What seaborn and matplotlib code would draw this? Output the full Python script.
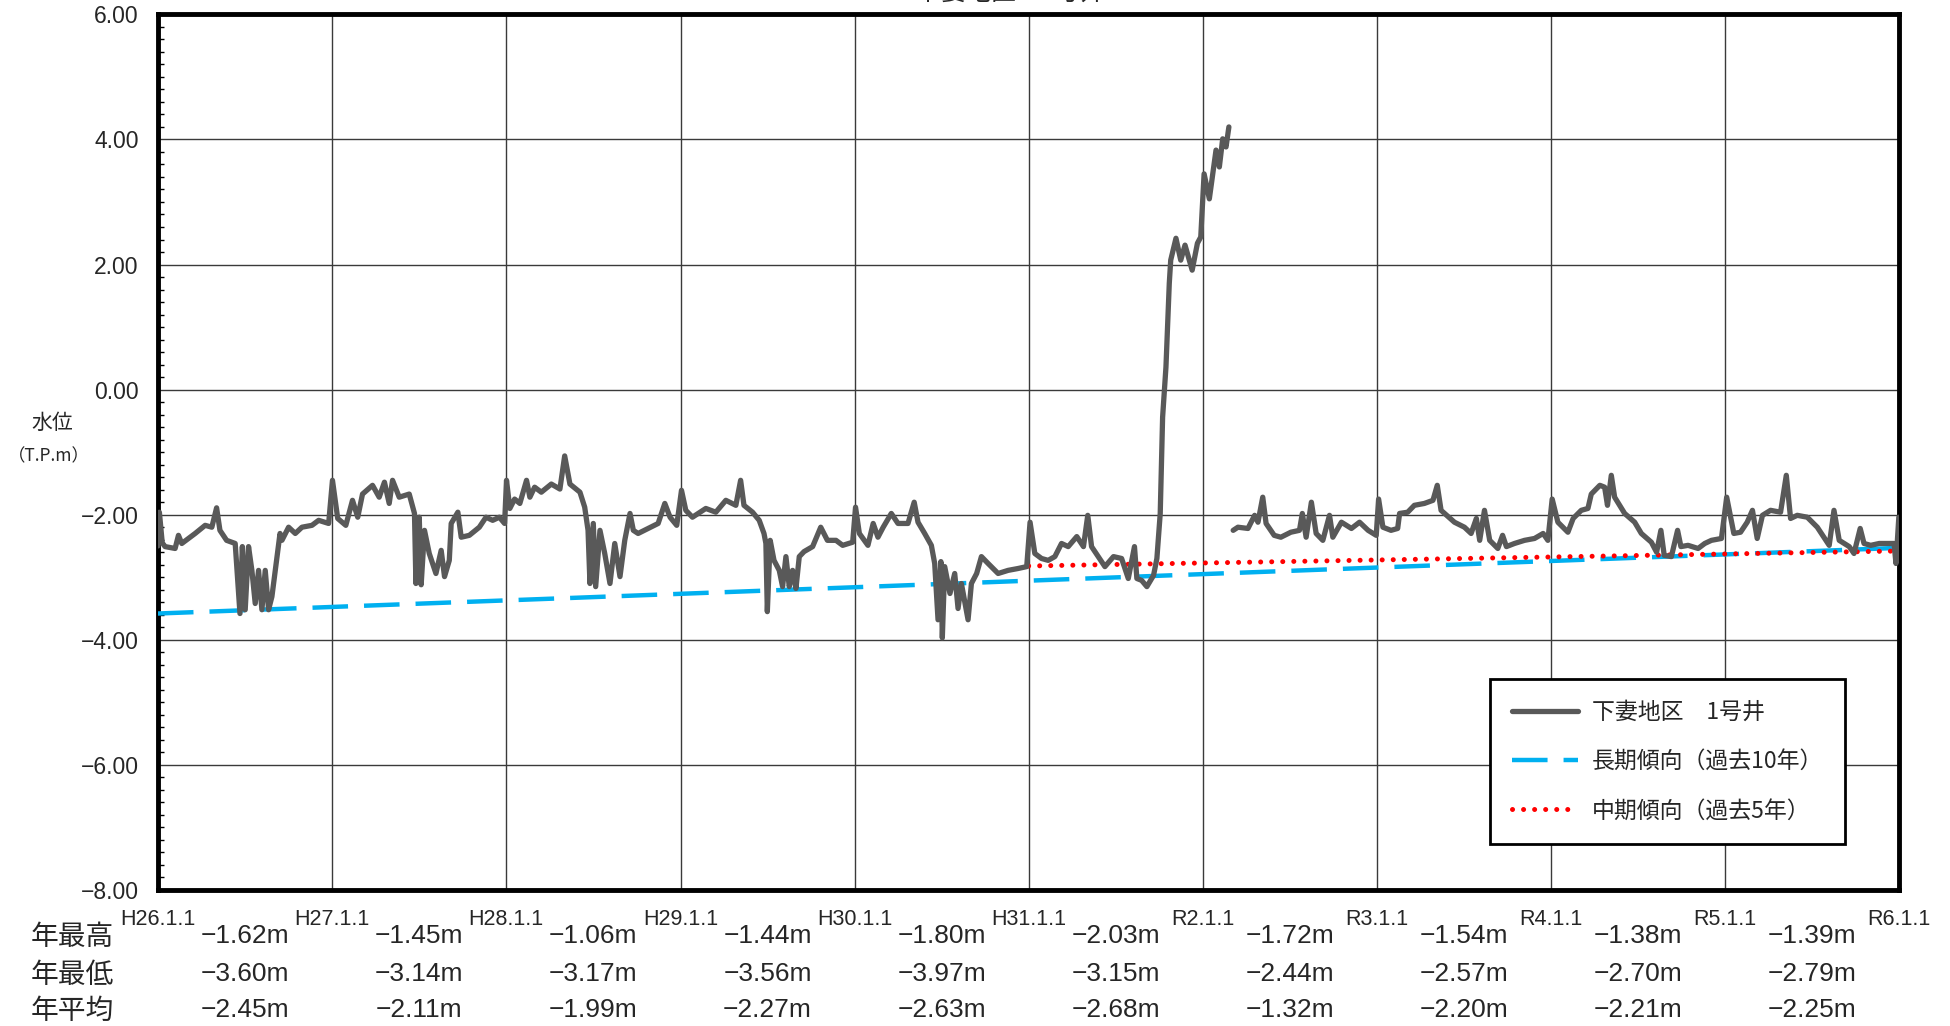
import pandas as pd
import matplotlib.pyplot as plt
import matplotlib.ticker as mticker
from matplotlib.lines import Line2D
import seaborn as sns

# observed water level, part 1 (up to the gap in Feb 2020)
obs_dates_a = [
    '2014-01-01', '2014-01-04', '2014-01-10', '2014-01-16', '2014-02-06', '2014-02-13', '2014-02-20',
    '2014-03-20', '2014-04-10', '2014-04-24', '2014-05-04', '2014-05-11', '2014-05-25', '2014-06-12',
    '2014-06-22', '2014-06-27', '2014-07-03', '2014-07-10', '2014-07-17', '2014-07-24', '2014-07-31',
    '2014-08-07', '2014-08-14', '2014-08-21', '2014-08-28', '2014-09-04', '2014-09-14', '2014-09-18',
    '2014-10-02', '2014-10-16', '2014-10-30', '2014-11-20', '2014-12-04', '2014-12-25',
    '2015-01-02', '2015-01-13', '2015-01-30', '2015-02-13', '2015-02-24', '2015-03-06', '2015-03-27',
    '2015-04-10', '2015-04-21', '2015-05-01', '2015-05-08', '2015-05-22', '2015-06-12', '2015-06-23',
    '2015-06-26', '2015-07-03', '2015-07-07', '2015-07-14', '2015-07-24', '2015-08-07', '2015-08-18',
    '2015-08-25', '2015-09-04', '2015-09-08', '2015-09-22', '2015-09-29', '2015-10-16', '2015-11-06',
    '2015-11-20', '2015-12-04', '2015-12-18', '2015-12-29',
    '2016-01-02', '2016-01-09', '2016-01-19', '2016-01-30', '2016-02-13', '2016-02-20', '2016-03-01',
    '2016-03-15', '2016-04-05', '2016-04-23', '2016-05-03', '2016-05-14', '2016-06-04', '2016-06-14',
    '2016-06-21', '2016-06-25', '2016-07-02', '2016-07-07', '2016-07-16', '2016-07-26', '2016-08-06',
    '2016-08-16', '2016-08-27', '2016-09-06', '2016-09-17', '2016-09-24', '2016-10-04', '2016-10-25',
    '2016-11-15', '2016-11-29', '2016-12-10', '2016-12-24',
    '2017-01-03', '2017-01-12', '2017-01-26', '2017-02-23', '2017-03-16', '2017-04-06', '2017-04-27',
    '2017-05-07', '2017-05-14', '2017-06-01', '2017-06-15', '2017-06-25', '2017-06-29', '2017-07-02',
    '2017-07-08', '2017-07-16', '2017-07-27', '2017-08-03', '2017-08-10', '2017-08-17', '2017-08-24',
    '2017-08-31', '2017-09-07', '2017-09-17', '2017-10-05', '2017-10-22', '2017-11-05', '2017-11-23',
    '2017-12-07', '2017-12-28',
    '2018-01-03', '2018-01-11', '2018-01-29', '2018-02-09', '2018-02-19', '2018-03-02', '2018-03-19',
    '2018-04-02', '2018-04-23', '2018-05-06', '2018-05-14', '2018-05-28', '2018-06-11', '2018-06-18',
    '2018-06-25', '2018-07-01', '2018-07-04', '2018-07-09', '2018-07-20', '2018-07-30', '2018-08-06',
    '2018-08-13', '2018-08-27', '2018-09-03', '2018-09-14', '2018-09-24', '2018-10-08', '2018-10-29',
    '2018-11-19', '2018-12-10', '2018-12-28',
    '2019-01-04', '2019-01-14', '2019-01-28', '2019-02-11', '2019-02-25', '2019-03-11', '2019-03-25',
    '2019-04-12', '2019-04-26', '2019-05-05', '2019-05-13', '2019-05-27', '2019-06-10', '2019-06-28',
    '2019-07-15', '2019-07-29', '2019-08-11', '2019-08-16', '2019-08-26', '2019-09-06', '2019-09-20',
    '2019-09-27', '2019-10-04', '2019-10-09', '2019-10-16', '2019-10-23', '2019-10-26', '2019-11-06',
    '2019-11-16', '2019-11-25', '2019-12-10', '2019-12-21', '2019-12-28',
    '2020-01-04', '2020-01-15', '2020-01-29', '2020-02-05', '2020-02-12', '2020-02-19', '2020-02-25',
]
obs_level_a = [
    -2.50, -1.96, -2.45, -2.51, -2.54, -2.33, -2.46,
    -2.30, -2.17, -2.20, -1.89, -2.25, -2.41, -2.46,
    -3.58, -2.51, -3.52, -2.51, -2.89, -3.42, -2.89,
    -3.52, -2.89, -3.52, -3.31, -2.89, -2.30, -2.41,
    -2.20, -2.30, -2.20, -2.17, -2.09, -2.14,
    -1.45, -2.06, -2.17, -1.77, -2.04, -1.67, -1.53,
    -1.72, -1.48, -1.82, -1.45, -1.72, -1.67, -1.98,
    -3.10, -2.04, -3.12, -2.25, -2.62, -2.94, -2.57,
    -2.99, -2.73, -2.14, -1.96, -2.36, -2.33, -2.20,
    -2.04, -2.09, -2.04, -2.14,
    -1.45, -1.90, -1.75, -1.82, -1.45, -1.72, -1.56,
    -1.64, -1.51, -1.59, -1.06, -1.51, -1.64, -1.88,
    -2.25, -3.10, -2.14, -3.15, -2.25, -2.62, -3.10,
    -2.46, -2.99, -2.41, -1.98, -2.25, -2.30, -2.22,
    -2.14, -1.82, -2.04, -2.17,
    -1.61, -1.93, -2.04, -1.90, -1.96, -1.77, -1.85,
    -1.45, -1.85, -1.96, -2.09, -2.30, -2.46, -3.55,
    -2.41, -2.73, -2.89, -3.15, -2.67, -3.15, -2.89,
    -3.18, -2.67, -2.59, -2.51, -2.20, -2.41, -2.41,
    -2.49, -2.44,
    -1.88, -2.30, -2.49, -2.14, -2.36, -2.20, -1.98,
    -2.14, -2.14, -1.80, -2.12, -2.30, -2.49, -2.78,
    -3.68, -2.75, -3.97, -2.83, -3.26, -2.94, -3.50,
    -3.10, -3.68, -3.10, -2.94, -2.67, -2.78, -2.94,
    -2.89, -2.86, -2.83,
    -2.12, -2.62, -2.70, -2.73, -2.67, -2.46, -2.51,
    -2.35, -2.51, -2.01, -2.51, -2.67, -2.83, -2.67,
    -2.70, -3.02, -2.51, -3.02, -3.05, -3.15, -2.97,
    -2.70, -1.98, -0.44, 0.36, 1.70, 2.07, 2.42,
    2.07, 2.31, 1.91, 2.34, 2.44,
    3.45, 3.05, 3.83, 3.56, 4.01, 3.88, 4.20,
]

# observed water level, part 2 (after the gap)
obs_dates_b = [
    '2020-03-05', '2020-03-15', '2020-04-05', '2020-04-19', '2020-04-26', '2020-05-06', '2020-05-13',
    '2020-05-30', '2020-06-13', '2020-07-04', '2020-07-22', '2020-07-28', '2020-08-05', '2020-08-16',
    '2020-08-26', '2020-09-09', '2020-09-23', '2020-09-30', '2020-10-18', '2020-11-08', '2020-11-25',
    '2020-12-13', '2020-12-30',
    '2021-01-04', '2021-01-13', '2021-01-30', '2021-02-13', '2021-02-17', '2021-03-06', '2021-03-20',
    '2021-04-10', '2021-04-28', '2021-05-07', '2021-05-15', '2021-06-12', '2021-07-03', '2021-07-17',
    '2021-07-28', '2021-08-04', '2021-08-14', '2021-08-25', '2021-09-11', '2021-09-21', '2021-09-29',
    '2021-10-16', '2021-11-06', '2021-11-27', '2021-12-15', '2021-12-25',
    '2022-01-03', '2022-01-15', '2022-02-05', '2022-02-16', '2022-03-05', '2022-03-19', '2022-03-26',
    '2022-04-13', '2022-04-23', '2022-04-29', '2022-05-07', '2022-05-14', '2022-06-04', '2022-06-25',
    '2022-07-09', '2022-07-30', '2022-08-10', '2022-08-19', '2022-08-26', '2022-09-10', '2022-09-23',
    '2022-09-30', '2022-10-15', '2022-11-05', '2022-11-19', '2022-12-03', '2022-12-24',
    '2023-01-04', '2023-01-19', '2023-02-02', '2023-02-16', '2023-02-27', '2023-03-09', '2023-03-20',
    '2023-04-06', '2023-04-27', '2023-05-09', '2023-05-18', '2023-06-01', '2023-06-22', '2023-07-13',
    '2023-08-07', '2023-08-17', '2023-08-28', '2023-09-18', '2023-09-28', '2023-10-11', '2023-10-19',
    '2023-11-02', '2023-11-20', '2023-12-07', '2023-12-21', '2023-12-25', '2023-12-31',
]
obs_level_b = [
    -2.25, -2.20, -2.22, -2.01, -2.12, -1.72, -2.14,
    -2.33, -2.36, -2.28, -2.25, -1.98, -2.36, -1.80,
    -2.30, -2.41, -2.01, -2.36, -2.12, -2.22, -2.12,
    -2.25, -2.33,
    -1.75, -2.20, -2.25, -2.22, -1.98, -1.96, -1.85,
    -1.82, -1.77, -1.53, -1.93, -2.12, -2.20, -2.30,
    -2.06, -2.41, -1.93, -2.41, -2.54, -2.33, -2.51,
    -2.46, -2.41, -2.38, -2.30, -2.41,
    -1.75, -2.12, -2.28, -2.06, -1.93, -1.90, -1.67,
    -1.53, -1.56, -1.85, -1.37, -1.72, -1.98, -2.12,
    -2.30, -2.44, -2.60, -2.25, -2.65, -2.67, -2.25,
    -2.51, -2.49, -2.54, -2.46, -2.41, -2.38,
    -1.72, -2.30, -2.28, -2.12, -1.93, -2.38, -2.01,
    -1.93, -1.96, -1.37, -2.06, -2.01, -2.04, -2.20,
    -2.49, -1.93, -2.41, -2.51, -2.62, -2.22, -2.46,
    -2.49, -2.46, -2.46, -2.46, -2.78, -2.04,
]

# trend lines
long_dates = ['2014-01-01', '2024-01-01']
long_level = [-3.58, -2.53]
mid_dates = ['2019-01-01', '2024-01-01']
mid_level = [-2.82, -2.58]

# yearly summary table
year_starts = ['2014-01-01', '2015-01-01', '2016-01-01', '2017-01-01', '2018-01-01', '2019-01-01',
               '2020-01-01', '2021-01-01', '2022-01-01', '2023-01-01', '2024-01-01']
year_labels = ['H26.1.1', 'H27.1.1', 'H28.1.1', 'H29.1.1', 'H30.1.1', 'H31.1.1',
               'R2.1.1', 'R3.1.1', 'R4.1.1', 'R5.1.1', 'R6.1.1']
year_max = [-1.62, -1.45, -1.06, -1.44, -1.80, -2.03, -1.72, -1.54, -1.38, -1.39]
year_min = [-3.60, -3.14, -3.17, -3.56, -3.97, -3.15, -2.44, -2.57, -2.70, -2.79]
year_mean = [-2.45, -2.11, -1.99, -2.27, -2.63, -2.68, -1.32, -2.20, -2.21, -2.25]
row_names = ['年最高', '年最低', '年平均']

sns.set_style('white')
num_font = ['Liberation Sans', 'DejaVu Sans']
jp_font = ['Noto Sans CJK JP', 'DejaVu Sans']
plt.rcParams['font.family'] = num_font

df_a = pd.DataFrame({'date': pd.to_datetime(obs_dates_a), 'level': obs_level_a})
df_b = pd.DataFrame({'date': pd.to_datetime(obs_dates_b), 'level': obs_level_b})
df_long = pd.DataFrame({'date': pd.to_datetime(long_dates), 'level': long_level})
df_mid = pd.DataFrame({'date': pd.to_datetime(mid_dates), 'level': mid_level})
ticks = pd.to_datetime(year_starts)

fig, ax = plt.subplots(figsize=(19.5, 10.26), dpi=100)
fig.subplots_adjust(left=0.081, right=0.974, bottom=0.1326, top=0.986)

gray = '#595959'
blue = '#00B0F0'
red = '#FF0000'
long_style = (0, (8, 3.6))
mid_style = (0, (0.01, 2.2))

sns.lineplot(data=df_long, x='date', y='level', ax=ax, color=blue, linewidth=3.2,
             linestyle=long_style, zorder=3)
sns.lineplot(data=df_mid, x='date', y='level', ax=ax, color=red, linewidth=3.6,
             linestyle=mid_style, dash_capstyle='round', zorder=3)
for d in (df_a, df_b):
    sns.lineplot(data=d, x='date', y='level', ax=ax, color=gray, linewidth=3.8,
                 estimator=None, sort=False, zorder=4)

ax.set_xlim(ticks[0], ticks[-1])
ax.set_ylim(-8, 6)
ax.set_xticks(ticks)
ax.set_xticklabels(year_labels, fontsize=15.5)
ax.set_yticks(range(-8, 7, 2))
ax.yaxis.set_major_formatter(mticker.FuncFormatter(lambda v, p: f'{v:.2f}'.replace('-', '\u2212')))
ax.yaxis.set_minor_locator(mticker.MultipleLocator(0.2))
ax.tick_params(axis='y', which='major', length=0, pad=14, labelsize=16.5)
ax.tick_params(axis='y', which='minor', left=True, direction='in', length=4, width=1, color='black')
ax.tick_params(axis='x', length=0, pad=14)
ax.set_xlabel('')
ax.set_ylabel('')
ax.grid(True, color='#3a3a3a', linewidth=1.0)
for s in ax.spines.values():
    s.set_color('black')
    s.set_linewidth(3.5)

# y axis caption
fig.text(0.027, 0.588, '水位', fontsize=15, family=jp_font, ha='center', va='center')
fig.text(0.025, 0.555, '（T.P.m）', fontsize=12.5, family=jp_font, ha='center', va='center')

# cut-off title
fig.text(0.518, 0.994, '下妻地区\u30001号井', fontsize=18, family=jp_font, ha='center', va='bottom')

# summary table below the axis
trans = ax.get_xaxis_transform()
mids = ticks[:-1] + (ticks[1:] - ticks[:-1]) / 2
for rows, yy in zip([year_max, year_min, year_mean], [-0.0525, -0.096, -0.137]):
    for m, v in zip(mids, rows):
        ax.text(m, yy, f'{v:.2f}m'.replace('-', '\u2212'), transform=trans, fontsize=19,
                ha='center', va='center', clip_on=False)
for name, yy in zip(row_names, [0.087, 0.050, 0.015]):
    fig.text(0.037, yy, name, fontsize=20, family=jp_font, ha='center', va='center')

handles = [
    Line2D([], [], color=gray, linewidth=3.8),
    Line2D([], [], color=blue, linewidth=3.2, linestyle=long_style),
    Line2D([], [], color=red, linewidth=3.6, linestyle=mid_style, dash_capstyle='round'),
]
labels = ['下妻地区\u30001号井', '長期傾向（過去10年）', '中期傾向（過去5年）']
leg = ax.legend(handles, labels, loc='upper left', bbox_to_anchor=(0.765, 0.241),
                borderaxespad=0, frameon=True, fancybox=False, handlelength=2.9,
                labelspacing=1.15, borderpad=0.95, handletextpad=0.6,
                prop={'family': jp_font, 'size': 16.5})
leg.get_frame().set_edgecolor('black')
leg.get_frame().set_linewidth(2)
leg.get_frame().set_alpha(1)

plt.savefig('out.png', dpi=100)
